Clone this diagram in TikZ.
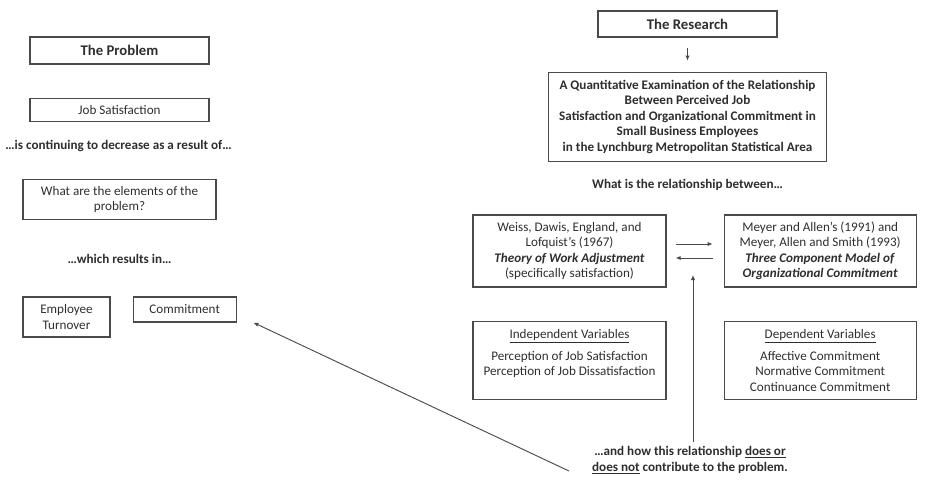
\documentclass[tikz,border=0pt]{standalone}
\usepackage{fontspec}
\setmainfont{Carlito}
\usepackage{xcolor}
\usepackage{tikz}
\usetikzlibrary{arrows.meta,positioning}

\definecolor{ink}{HTML}{2E2E2E}
\definecolor{rule}{HTML}{4A4A4A}
\newcommand{\bodyfont}{\fontsize{11.2}{13.2}\selectfont}
\newcommand{\titlefont}{\fontsize{12.6}{14}\selectfont\bfseries}

\begin{document}
\begin{tikzpicture}[
  x=0.03cm, y=-0.03cm,
  text=ink,
  box/.style={rectangle, draw=rule, line width=1pt, align=center, inner sep=2pt, font=\bodyfont},
  headbox/.style={box, font=\titlefont},
  lead/.style={align=center, font=\bodyfont\bfseries},
  arr/.style={-{Latex[length=1.5mm, width=1.3mm]}, draw=rule, line width=0.8pt}
]
  \useasboundingbox (0,0) rectangle (930,479);

  \node[headbox, minimum width=5.37cm, minimum height=0.81cm] (problem) at (119.5,50.5) {The Problem};
  \node[box, minimum width=5.37cm, minimum height=0.69cm, below=0.99cm of problem] (jobsat) {Job Satisfaction};
  \node[lead] (decrease) at (118.5,146) {\ldots is continuing to decrease as a result of\ldots};
  \node[box, minimum width=5.79cm, minimum height=1.2cm, below=1.71cm of jobsat] (elements) {What are the elements of the\\problem?};
  \node[lead] (results) at (119.5,259) {\ldots which results in\ldots};
  \node[box, minimum width=2.61cm, minimum height=1.2cm] (turnover) at (66.5,317) {Employee\\Turnover};
  \node[box, minimum width=3.09cm, minimum height=0.75cm, below right=0cm and 0.66cm of turnover.north east] (commit) {Commitment};

  \node[headbox, minimum width=5.37cm, minimum height=0.78cm] (research) at (687.5,24) {The Research};
  \node[box, font=\bodyfont\bfseries, minimum width=8.34cm, minimum height=2.67cm, below=1.02cm of research] (study)
    {A Quantitative Examination of the Relationship\\Between Perceived Job\\Satisfaction and Organizational Commitment in\\Small Business Employees\\in the Lynchburg Metropolitan Statistical Area};
  \node[lead] (question) at (687.5,185) {What is the relationship between\ldots};
  \node[box, minimum width=5.79cm, minimum height=2.16cm] (weiss) at (569.5,251)
    {Weiss, Dawis, England, and\\Lofquist's (1967)\\\textbf{\textit{Theory of Work Adjustment}}\\(specifically satisfaction)};
  \node[box, minimum width=5.76cm, minimum height=2.16cm, right=1.71cm of weiss] (meyer)
    {Meyer and Allen's (1991) and\\Meyer, Allen and Smith (1993)\\\textbf{\textit{Three Component Model of}}\\\textbf{\textit{Organizational Commitment}}};
  \node[box, minimum width=5.79cm, minimum height=2.34cm, below=0.99cm of weiss] (indep)
    {\underline{Independent Variables}\\[5.5pt]Perception of Job Satisfaction\\Perception of Job Dissatisfaction\\\mbox{}};
  \node[box, minimum width=5.76cm, minimum height=2.34cm, below=0.99cm of meyer] (dep)
    {\underline{Dependent Variables}\\[5.5pt]Affective Commitment\\Normative Commitment\\Continuance Commitment};
  \node[lead] (contrib) at (690,460)
    {\ldots and how this relationship \underline{does or}\\\underline{does not} contribute to the problem.};

  \coordinate (link) at (693,275);

  \draw[arr, shorten <=0.3cm, shorten >=0.33cm] (research) -- (study);
  \draw[arr] ([xshift=0.27cm, yshift=0.21cm]weiss.east) -- ([xshift=-0.33cm, yshift=0.21cm]meyer.west);
  \draw[arr] ([xshift=-0.33cm, yshift=-0.21cm]meyer.west) -- ([xshift=0.27cm, yshift=-0.21cm]weiss.east);
  \draw[arr] (contrib.north -| link) -- (link);
  \draw[arr] ([xshift=-0.57cm, yshift=0.2cm]contrib.south west) -- ([xshift=0.5cm]commit.south east);
\end{tikzpicture}
\end{document}
